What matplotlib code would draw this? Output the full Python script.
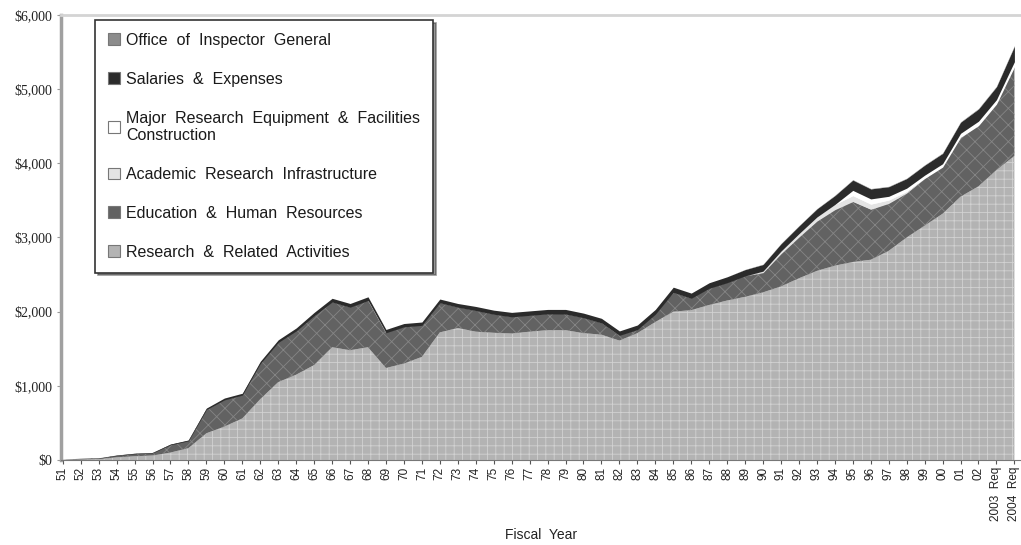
import matplotlib
matplotlib.use('Agg')
import matplotlib.pyplot as plt
from matplotlib.patches import Patch
from matplotlib.ticker import FuncFormatter

# fiscal years 1951 - 2004 request, $ millions
years = [f'{y:02d}' for y in list(range(51, 100)) + [0, 1, 2]] + ['2003  Req', '2004  Req']

research = [3, 10, 12, 35, 50, 60, 100, 160, 360, 450,
            560, 820, 1050, 1150, 1280, 1520, 1480, 1520, 1240, 1300,
            1390, 1720, 1780, 1730, 1715, 1705, 1730, 1750, 1750, 1710,
            1690, 1610, 1710, 1860, 2000, 2020, 2090, 2150, 2200, 2260,
            2340, 2450, 2550, 2620, 2670, 2700, 2820, 3000, 3160, 3320,
            3550, 3690, 3910, 4100]
education = [1, 7, 10, 25, 34, 34, 105, 98, 320, 360,
             315, 480, 535, 590, 665, 610, 580, 630, 475, 495,
             425, 400, 280, 285, 250, 225, 220, 220, 218, 208,
             158, 70, 48, 105, 260, 160, 225, 240, 282, 266,
             441, 556, 671, 755, 815, 680, 640, 600, 635, 629,
             799, 818, 888, 1200]
infrastructure = [0] * 39 + [20, 35, 45, 55, 70, 80, 70, 45, 20, 0, 0, 0, 0, 0, 0]
mrefc = [0] * 44 + [70, 70, 50, 45, 45, 45, 55, 60, 60, 70]
salaries = [1, 3, 3, 5, 6, 6, 10, 12, 20, 25,
            25, 30, 35, 40, 45, 50, 50, 50, 45, 45,
            45, 50, 50, 55, 55, 60, 60, 60, 62, 62,
            62, 60, 62, 65, 70, 70, 75, 80, 85, 90,
            100, 105, 110, 120, 140, 135, 130, 130, 135, 140,
            150, 165, 175, 210]
oig = [0] * 38 + [3, 4, 4, 4, 4, 5, 5, 5, 5, 5, 5, 6, 6, 7, 7, 8]

labels = ['Research  &  Related  Activities',
          'Education  &  Human  Resources',
          'Academic  Research  Infrastructure',
          'Major  Research  Equipment  &  Facilities\nConstruction',
          'Salaries  &  Expenses',
          'Office  of  Inspector  General']
faces = ['#b3b3b3', '#626262', '#e4e4e4', '#ffffff', '#2b2b2b', '#8c8c8c']
hatch_cols = ['#d2d2d2', '#858585', '#e4e4e4', '#ffffff', '#2b2b2b', '#8c8c8c']
hatches = ['++', 'xx', None, None, None, None]

plt.rcParams['hatch.linewidth'] = 0.6

fig = plt.figure(figsize=(10.21, 5.45), dpi=100)
ax = fig.add_axes([0.0597, 0.156, 0.94, 0.8165])

x = list(range(len(years)))
polys = ax.stackplot(x, research, education, infrastructure, mrefc, salaries, oig,
                     colors=faces)
for poly, hc, h in zip(polys, hatch_cols, hatches):
    poly.set_edgecolor(hc)
    poly.set_linewidth(0)
    if h:
        poly.set_hatch(h)

ax.set_xlim(-0.1, 53.35)
ax.set_ylim(0, 6000)
ax.set_yticks(range(0, 6001, 1000))
ax.yaxis.set_major_formatter(FuncFormatter(lambda v, p: '\\$' + f'{v:,.0f}'))
for t in ax.get_yticklabels():
    t.set_fontfamily('Liberation Serif')
    t.set_fontsize(10)
    t.set_color('#222222')

ax.set_xticks(x)
ax.set_xticklabels(years, rotation=90, fontsize=8.5, fontfamily='Liberation Sans',
                   color='#222222')
ax.tick_params(axis='x', length=3, color='#555555', pad=2)
ax.tick_params(axis='y', length=3, color='#999999', pad=3)

ax.spines['left'].set_color('#a0a0a0')
ax.spines['left'].set_linewidth(2.5)
ax.spines['top'].set_color('#d4d4d4')
ax.spines['top'].set_linewidth(2)
ax.spines['right'].set_visible(False)
ax.spines['bottom'].set_color('#777777')
ax.spines['bottom'].set_linewidth(0.8)

ax.set_xlabel('Fiscal  Year', fontsize=10, fontfamily='Liberation Sans',
              color='#222222', labelpad=5)

handles = [Patch(facecolor=f, edgecolor='#777777', linewidth=0.8) for f in faces]
leg = ax.legend(handles[::-1], labels[::-1], loc='upper left',
                bbox_to_anchor=(0.0355, 0.989), borderaxespad=0,
                prop={'family': 'Liberation Sans', 'size': 11.5},
                labelspacing=1.5, handlelength=0.75, handleheight=0.75, handletextpad=0.4,
                borderpad=0.8, fancybox=False, shadow={'color': '#333333'},
                framealpha=1, edgecolor='#333333')
leg.get_frame().set_linewidth(1.2)
for t in leg.get_texts():
    t.set_color('#1a1a1a')

fig.savefig('out.png', dpi=100)
